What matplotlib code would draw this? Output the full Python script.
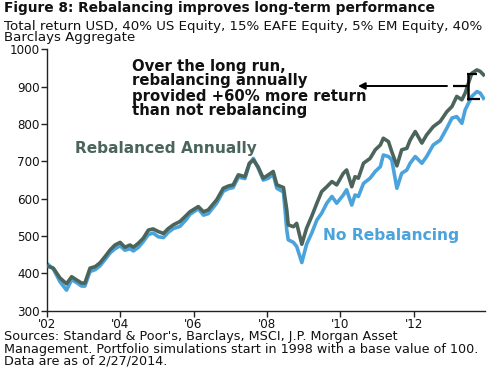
import matplotlib
matplotlib.use("Agg")
import matplotlib.pyplot as plt
from matplotlib.lines import Line2D

plt.rcParams['font.family'] = ['DejaVu Sans']

# decimal years offset from 2002
t_offset = [0.00, 0.18, 0.36, 0.54, 0.68, 0.82, 0.95, 1.04, 1.18, 1.32, 1.45, 1.59, 1.73, 1.86,
            2.00, 2.13, 2.27, 2.36, 2.50, 2.63, 2.77, 2.90, 3.04, 3.18, 3.31, 3.45, 3.63, 3.81,
            3.90, 4.13, 4.27, 4.40, 4.63, 4.81, 4.95, 5.08, 5.22, 5.40, 5.52, 5.63, 5.76, 5.90,
            6.04, 6.17, 6.27, 6.45, 6.54, 6.58, 6.72, 6.81, 6.95, 7.08, 7.22, 7.36, 7.49, 7.63,
            7.77, 7.90, 8.08, 8.17, 8.31, 8.40, 8.49, 8.63, 8.81, 8.95, 9.09, 9.17, 9.31, 9.40,
            9.54, 9.67, 9.81, 9.90, 10.04, 10.22, 10.35, 10.53, 10.72, 10.90, 11.04, 11.17,
            11.31, 11.40, 11.49, 11.58, 11.72, 11.81, 11.90]

rebalanced = [420, 414, 388, 372, 391, 382, 374, 374, 414, 418, 428, 445, 463, 476,
              483, 470, 476, 470, 481, 494, 516, 519, 512, 507, 520, 530, 539, 556,
              565, 579, 565, 570, 597, 628, 634, 637, 664, 659, 695, 704, 685, 655,
              664, 673, 637, 630, 570, 530, 525, 534, 478, 521, 553, 588, 619, 632,
              646, 637, 668, 677, 632, 659, 655, 695, 708, 731, 744, 762, 753, 726,
              688, 731, 735, 757, 780, 749, 771, 793, 807, 833, 847, 874,
              865, 883, 910, 936, 945, 941, 932]

no_rebal = [427, 412, 378, 355, 383, 375, 366, 366, 405, 410, 420, 437, 455, 466,
            474, 462, 466, 460, 470, 485, 504, 508, 498, 496, 510, 520, 526, 545,
            558, 573, 556, 560, 588, 620, 627, 630, 658, 654, 692, 708, 682, 650,
            655, 665, 628, 618, 516, 490, 483, 472, 429, 478, 508, 543, 561, 588,
            606, 588, 610, 624, 583, 610, 606, 641, 655, 673, 686, 717, 713, 704,
            628, 668, 677, 695, 713, 695, 713, 744, 757, 789, 816, 820,
            802, 838, 856, 874, 887, 883, 869]

years = [2002 + v for v in t_offset]
x_ticks = [2002, 2004, 2006, 2008, 2010, 2012]
x_labels = ["'02", "'04", "'06", "'08", "'10", "'12"]
y_ticks = [300, 400, 500, 600, 700, 800, 900, 1000]

DARK = '#4b655c'
BLUE = '#4ba3dc'

W, H = 500, 371
fig = plt.figure(figsize=(5.0, 3.71), dpi=100)
ax = fig.add_axes([46.7 / W, 1 - 310.7 / H, (485 - 46.7) / W, (310.7 - 49.4) / H])

ax.plot(years, no_rebal, color=BLUE, lw=2.6, solid_joinstyle='round', zorder=2)
ax.plot(years, rebalanced, color=DARK, lw=2.6, solid_joinstyle='round', zorder=3)

ax.set_xlim(2002, 2013.94)
ax.set_ylim(300, 1000)
ax.set_xticks(x_ticks)
ax.set_xticklabels(x_labels)
ax.set_yticks(y_ticks)
for s in ['top', 'right']:
    ax.spines[s].set_visible(False)
for s in ['left', 'bottom']:
    ax.spines[s].set_color('#222222')
    ax.spines[s].set_linewidth(1.0)
ax.tick_params(axis='both', direction='out', length=4, width=1, color='#222222',
               labelsize=8.6, labelcolor='#111111', pad=1.2)

# texts
fig.text(4 / W, 1 - 8 / H, "Figure 8: Rebalancing improves long-term performance",
         fontsize=9.9, fontweight='bold', va='center', ha='left', color='#111111')
fig.text(4 / W, 1 - 32 / H,
         "Total return USD, 40% US Equity, 15% EAFE Equity, 5% EM Equity, 40%\nBarclays Aggregate",
         fontsize=9.6, va='center', ha='left', color='#111111', linespacing=0.88)
fig.text(4 / W, 1 - 349 / H,
         "Sources: Standard & Poor's, Barclays, MSCI, J.P. Morgan Asset\n"
         "Management. Portfolio simulations start in 1998 with a base value of 100.\n"
         "Data are as of 2/27/2014.",
         fontsize=9.2, va='center', ha='left', color='#111111', linespacing=0.93)

fig.text(131.7 / W, 1 - 88.5 / H,
         "Over the long run,\nrebalancing annually\nprovided +60% more return\nthan not rebalancing",
         fontsize=10.7, fontweight='bold', va='center', ha='left', color='#111111',
         linespacing=1.0)

fig.text(75 / W, 1 - 149 / H, "Rebalanced Annually", fontsize=11.1, fontweight='bold',
         color=DARK, va='center', ha='left')
fig.text(323 / W, 1 - 235.7 / H, "No Rebalancing", fontsize=11.2, fontweight='bold',
         color=BLUE, va='center', ha='left')

# arrow and bracket
fig.add_artist(plt.Annotation("", xy=(358 / W, 1 - 86 / H), xytext=(447 / W, 1 - 86 / H),
                              xycoords='figure fraction', textcoords='figure fraction',
                              arrowprops=dict(arrowstyle='-|>', color='black', lw=1.4,
                                              mutation_scale=10, shrinkA=0, shrinkB=0)))
def fl(xs, ys, lw=1.6):
    fig.add_artist(Line2D([x / W for x in xs], [1 - y / H for y in ys], color='black',
                          lw=lw, transform=fig.transFigure, solid_capstyle='butt'))
fl([453, 467], [86, 86])
fl([468, 468], [73, 99.5], lw=1.8)
fl([467.2, 477], [73.5, 73.5])
fl([467.2, 480], [99, 99])

fig.savefig('out.png', dpi=100)
